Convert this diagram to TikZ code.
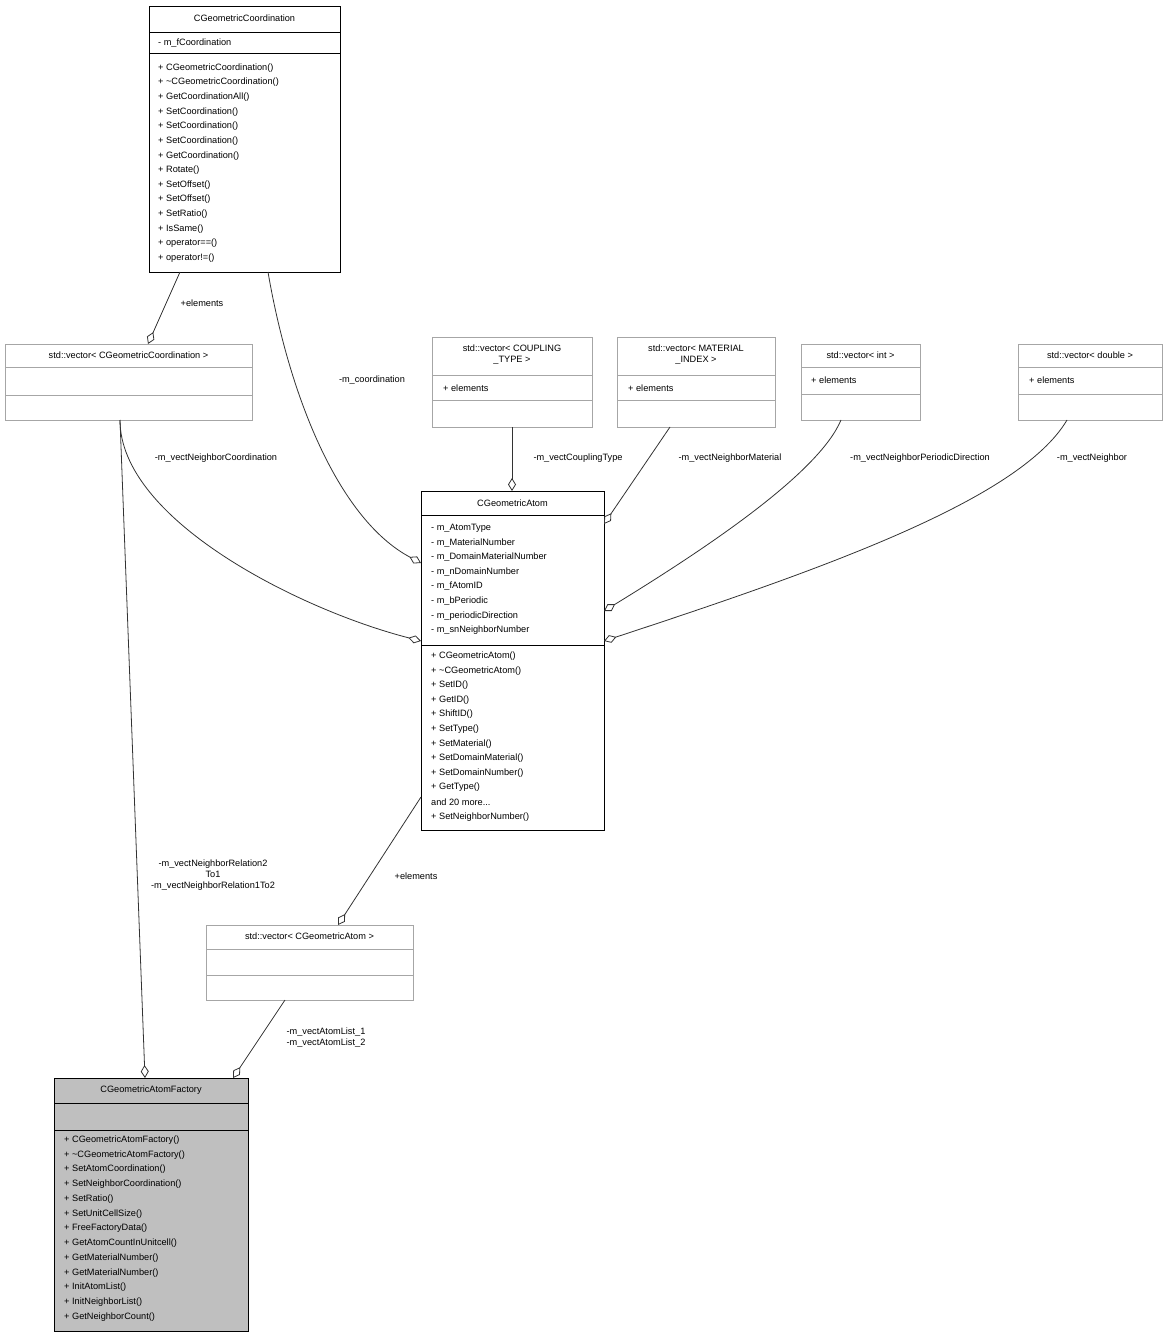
\documentclass[tikz,border=0pt]{standalone}
\usepackage{fontspec}
\setmainfont{Liberation Sans}
\usetikzlibrary{arrows.meta,calc}
\begin{document}
\begin{tikzpicture}[x=1pt,y=-1pt,
  box/.style={draw=black,line width=0.8pt,anchor=north west,inner sep=0,outer sep=0},
  gbox/.style={draw=black!35,line width=0.8pt,anchor=north west,inner sep=0,outer sep=0},
  txt/.style={font=\fontsize{9.2}{11}\selectfont,inner sep=0,anchor=west},
  ttl/.style={font=\fontsize{9.2}{11}\selectfont,inner sep=0,align=center},
  lbl/.style={font=\fontsize{9.2}{11}\selectfont,inner sep=0,align=center},
  edge/.style={draw=black!80,line width=0.8pt,-{Diamond[open,length=13pt,width=8pt]}}]
\useasboundingbox (0,0) rectangle (1167,1337);
\newcommand{\lines}[4]{\foreach \t [count=\i from 0] in {#4} {\node[txt] at (#1,#2+\i*#3) {\t};}}
% CGeometricCoordination
\node[box,minimum width=191,minimum height=266] (cgc) at (149,6) {};
\draw (149,32) -- (340,32) (149,53) -- (340,53);
\node[ttl] at (244.5,18) {CGeometricCoordination};
\node[txt] at (158,43) {- m\_fCoordination};
\lines{158}{68}{14.62}{+ CGeometricCoordination(),+ \textasciitilde CGeometricCoordination(),+ GetCoordinationAll(),+ SetCoordination(),+ SetCoordination(),+ SetCoordination(),+ GetCoordination(),+ Rotate(),+ SetOffset(),+ SetOffset(),+ SetRatio(),+ IsSame(),+ operator==(),+ operator!=()}
% vector CGC
\node[gbox,minimum width=247,minimum height=76] (vcgc) at (5,344) {};
\draw[black!35] (5,367) -- (252,367) (5,395) -- (252,395);
\node[ttl] at (128.5,355) {std::vector< CGeometricCoordination >};
% coupling
\node[gbox,minimum width=160,minimum height=90] (vct) at (432,337) {};
\draw[black!35] (432,375) -- (592,375) (432,400) -- (592,400);
\node[ttl] at (512,355) {std::vector< COUPLING\\\_TYPE >};
\node[txt] at (443,388) {+ elements};
% material
\node[gbox,minimum width=158,minimum height=90] (vmi) at (617,337) {};
\draw[black!35] (617,375) -- (775,375) (617,400) -- (775,400);
\node[ttl] at (696,355) {std::vector< MATERIAL\\\_INDEX >};
\node[txt] at (628,388) {+ elements};
% int
\node[gbox,minimum width=119,minimum height=76] (vint) at (801,344) {};
\draw[black!35] (801,367) -- (920,367) (801,394) -- (920,394);
\node[ttl] at (860.5,355) {std::vector< int >};
\node[txt] at (811,380) {+ elements};
% double
\node[gbox,minimum width=144,minimum height=76] (vdbl) at (1018,344) {};
\draw[black!35] (1018,367) -- (1162,367) (1018,394) -- (1162,394);
\node[ttl] at (1090,355) {std::vector< double >};
\node[txt] at (1029,380) {+ elements};
% CGeometricAtom
\node[box,minimum width=183,minimum height=339] (ga) at (421,491) {};
\draw (421,515) -- (604,515) (421,645) -- (604,645);
\node[ttl] at (512.5,503) {CGeometricAtom};
\lines{431}{528}{14.62}{- m\_AtomType,- m\_MaterialNumber,- m\_DomainMaterialNumber,- m\_nDomainNumber,- m\_fAtomID,- m\_bPeriodic,- m\_periodicDirection,- m\_snNeighborNumber}
\lines{431}{656}{14.62}{+ CGeometricAtom(),+ \textasciitilde CGeometricAtom(),+ SetID(),+ GetID(),+ ShiftID(),+ SetType(),+ SetMaterial(),+ SetDomainMaterial(),+ SetDomainNumber(),+ GetType(),{and 20 more{.}{.}{.}},+ SetNeighborNumber()}
% vector CGA
\node[gbox,minimum width=207,minimum height=75] (vga) at (206,925) {};
\draw[black!35] (206,949) -- (413,949) (206,975) -- (413,975);
\node[ttl] at (309.5,936) {std::vector< CGeometricAtom >};
% factory
\node[box,fill=black!25,minimum width=194,minimum height=253] (fac) at (54,1078) {};
\draw (54,1103) -- (248,1103) (54,1130) -- (248,1130);
\node[ttl] at (151,1090) {CGeometricAtomFactory};
\lines{64}{1140}{14.75}{+ CGeometricAtomFactory(),+ \textasciitilde CGeometricAtomFactory(),+ SetAtomCoordination(),+ SetNeighborCoordination(),+ SetRatio(),+ SetUnitCellSize(),+ FreeFactoryData(),+ GetAtomCountInUnitcell(),+ GetMaterialNumber(),+ GetMaterialNumber(),+ InitAtomList(),+ InitNeighborList(),+ GetNeighborCount()}
% edges
\draw[edge] ($(cgc.south west)+(31,0)$) -- ($(vcgc.north west)+(143,0)$);
\node[lbl] at (202,303) {+elements};
\draw[edge] ($(cgc.south west)+(119,0)$) .. controls (290,400) and (340,520) .. ($(ga.north west)+(0,72)$);
\node[lbl] at (372,380) {-m\_coordination};
\draw[edge] ($(vcgc.south west)+(115,0)$) .. controls (120,520) and (300,610) .. ($(ga.north west)+(0,150)$);
\node[lbl] at (216,458) {-m\_vectNeighborCoordination};
\draw[edge] ($(vcgc.south west)+(115,0)$) -- ($(fac.north west)+(91,0)$);
\node[lbl] at (213,875) {-m\_vectNeighborRelation2\\To1\\-m\_vectNeighborRelation1To2};
\draw[edge] (vct.south) -- (ga.north -| vct.south);
\node[lbl] at (578,458) {-m\_vectCouplingType};
\draw[edge] ($(vmi.south west)+(53,0)$) -- ($(ga.north east)+(0,33)$);
\node[lbl] at (730,458) {-m\_vectNeighborMaterial};
\draw[edge] ($(vint.south west)+(40,0)$) .. controls (820,470) and (720,540) .. ($(ga.north east)+(0,120)$);
\node[lbl] at (920,458) {-m\_vectNeighborPeriodicDirection};
\draw[edge] ($(vdbl.south west)+(49,0)$) .. controls (1020,500) and (820,570) .. ($(ga.north east)+(0,150)$);
\node[lbl] at (1092,458) {-m\_vectNeighbor};
\draw[edge] ($(ga.south west)+(0,-33)$) -- ($(vga.north west)+(132,0)$);
\node[lbl] at (416,876) {+elements};
\draw[edge] ($(vga.south west)+(79,0)$) -- ($(fac.north west)+(179,0)$);
\node[lbl,align=left] at (326,1038) {-m\_vectAtomList\_1\\-m\_vectAtomList\_2};
\end{tikzpicture}
\end{document}
